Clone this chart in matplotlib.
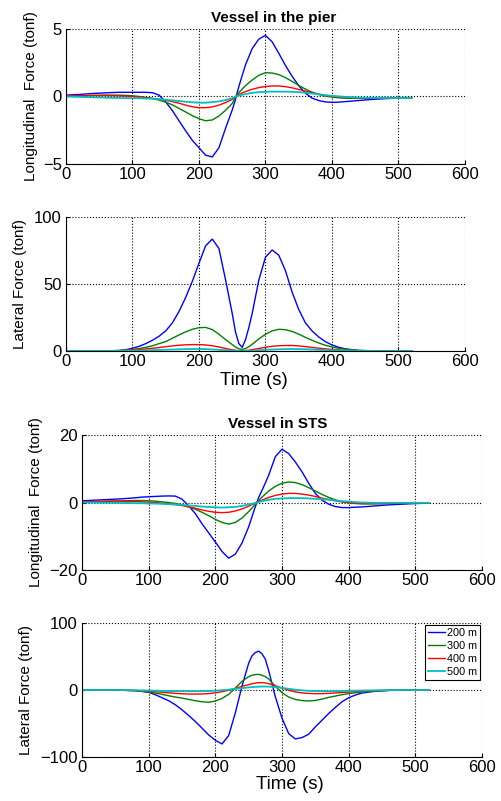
import numpy as np
import matplotlib
matplotlib.use("Agg")
import matplotlib.pyplot as plt

plt.rcParams['font.family'] = ['Liberation Sans', 'DejaVu Sans']

# time samples (s) shared by all curves
t = [0, 20, 40, 60, 80, 90, 100, 110, 120, 130, 140, 150, 160, 170, 180, 190,
     200, 210, 220, 230, 240, 250, 255, 260, 265, 270, 275, 280, 290, 300, 310,
     320, 330, 340, 350, 360, 370, 380, 390, 400, 410, 420, 440, 460, 480, 500, 520]

labels = ['200 m', '300 m', '400 m', '500 m']
colors = ['#0000ff', '#008000', '#ff0000', '#00bfbf']
widths = [1.0, 1.0, 1.0, 1.3]

# ---- Vessel in the pier, longitudinal force (tonf)
pier_long_200 = [0.10, 0.15, 0.22, 0.27, 0.31, 0.31, 0.31, 0.31, 0.31, 0.28, 0.10, -0.40, -1.05, -1.80, -2.55, -3.25,
                 -3.80, -4.35, -4.48, -3.80, -2.35, -1.00, -0.20, 0.75, 1.55, 2.35, 2.95, 3.55, 4.25, 4.53, 4.05,
                 3.20, 2.30, 1.50, 0.80, 0.25, -0.12, -0.30, -0.40, -0.44, -0.42, -0.38, -0.30, -0.22, -0.16, -0.12, -0.10]
pier_long_300 = [0.00, 0.04, 0.08, 0.10, 0.10, 0.08, 0.05, 0.00, -0.07, -0.15, -0.27, -0.42, -0.62, -0.88, -1.15, -1.42,
                 -1.65, -1.80, -1.74, -1.45, -1.02, -0.52, -0.05, 0.30, 0.55, 0.80, 1.02, 1.22, 1.57, 1.76, 1.74,
                 1.62, 1.40, 1.12, 0.82, 0.55, 0.32, 0.15, 0.03, -0.05, -0.10, -0.13, -0.14, -0.13, -0.11, -0.09, -0.08]
pier_long_400 = [0.05, 0.06, 0.07, 0.07, 0.05, 0.03, 0.00, -0.04, -0.09, -0.14, -0.20, -0.28, -0.38, -0.50, -0.64, -0.76,
                 -0.83, -0.83, -0.77, -0.64, -0.45, -0.22, -0.02, 0.15, 0.26, 0.36, 0.45, 0.53, 0.66, 0.74, 0.78,
                 0.78, 0.73, 0.64, 0.52, 0.40, 0.28, 0.17, 0.08, 0.01, -0.04, -0.07, -0.10, -0.10, -0.10, -0.09, -0.08]
pier_long_500 = [0.00, -0.03, -0.06, -0.09, -0.11, -0.12, -0.12, -0.13, -0.15, -0.17, -0.20, -0.24, -0.29, -0.34, -0.39, -0.43,
                 -0.46, -0.46, -0.42, -0.36, -0.27, -0.13, -0.01, 0.07, 0.13, 0.18, 0.23, 0.27, 0.32, 0.35, 0.36,
                 0.36, 0.36, 0.35, 0.32, 0.28, 0.22, 0.16, 0.10, 0.05, 0.01, -0.03, -0.08, -0.10, -0.11, -0.11, -0.11]

# ---- Vessel in the pier, lateral force (tonf)
pier_lat_200 = [0, 0, 0, 0, 0.3, 1.0, 2.0, 3.5, 5.5, 8.0, 11.0, 15.0, 21.0, 29.5, 40.0, 52.0,
                65.5, 78.5, 83.5, 76.5, 53.0, 28.0, 14.0, 5.5, 2.7, 8.5, 17.5, 28.0, 53.0, 70.0, 75.4,
                71.5, 60.0, 44.0, 31.0, 21.0, 15.0, 10.5, 7.0, 4.5, 2.8, 1.6, 0.4, 0.1, 0, 0, 0]
pier_lat_300 = [0, 0, 0, 0.1, 0.4, 0.7, 1.1, 1.8, 2.7, 3.9, 5.5, 7.0, 9.5, 12.0, 14.3, 16.2,
                17.4, 17.6, 16.0, 12.5, 8.5, 4.8, 3.0, 1.6, 1.2, 1.8, 3.2, 5.0, 9.0, 12.5, 15.0,
                16.2, 15.9, 14.6, 12.6, 10.2, 8.0, 6.0, 4.3, 3.0, 2.0, 1.3, 0.5, 0.2, 0.1, 0, 0]
pier_lat_400 = [0, 0, 0, 0.1, 0.3, 0.5, 0.8, 1.1, 1.5, 2.0, 2.6, 3.2, 3.8, 4.3, 4.6, 4.8,
                4.8, 4.5, 3.9, 3.0, 1.9, 0.9, 0.5, 0.2, 0.1, 0.3, 0.6, 1.0, 1.9, 2.8, 3.5,
                3.9, 4.1, 4.1, 3.8, 3.3, 2.7, 2.1, 1.6, 1.1, 0.8, 0.5, 0.2, 0.1, 0, 0, 0]
pier_lat_500 = [0, 0, 0, 0.05, 0.1, 0.2, 0.3, 0.4, 0.5, 0.65, 0.8, 0.95, 1.1, 1.25, 1.4, 1.5,
                1.5, 1.4, 1.2, 0.9, 0.6, 0.3, 0.2, 0.1, 0.05, 0.1, 0.2, 0.3, 0.6, 0.9, 1.1,
                1.3, 1.4, 1.5, 1.4, 1.3, 1.1, 0.9, 0.7, 0.5, 0.4, 0.3, 0.1, 0.05, 0, 0, 0]

# ---- Vessel in STS, longitudinal force (tonf)
sts_long_200 = [0.5, 0.7, 0.9, 1.1, 1.4, 1.6, 1.7, 1.8, 1.9, 1.95, 1.9, 1.0, -1.0, -3.3, -6.3, -9.0,
                -11.7, -14.5, -16.5, -15.3, -12.0, -7.2, -4.2, -1.2, 1.5, 3.6, 5.8, 8.1, 13.6, 15.8, 14.5,
                12.0, 9.1, 5.7, 2.7, 0.7, -0.5, -1.2, -1.5, -1.5, -1.4, -1.3, -1.0, -0.7, -0.5, -0.3, -0.2]
sts_long_300 = [0.0, 0.2, 0.4, 0.5, 0.6, 0.6, 0.5, 0.4, 0.2, 0.0, -0.3, -0.7, -1.3, -2.0, -2.9, -3.9,
                -5.0, -5.9, -6.4, -5.9, -4.6, -2.7, -1.6, -0.5, 0.6, 1.6, 2.5, 3.4, 4.8, 5.7, 6.1,
                5.9, 5.3, 4.4, 3.4, 2.4, 1.5, 0.8, 0.2, -0.1, -0.3, -0.4, -0.4, -0.3, -0.2, -0.1, -0.1]
sts_long_400 = [0.2, 0.3, 0.4, 0.4, 0.3, 0.2, 0.1, 0.0, -0.2, -0.4, -0.6, -0.9, -1.3, -1.7, -2.2, -2.6,
                -2.9, -3.0, -2.9, -2.5, -1.9, -1.1, -0.6, -0.2, 0.3, 0.7, 1.1, 1.5, 2.1, 2.5, 2.7,
                2.7, 2.5, 2.2, 1.8, 1.3, 0.9, 0.5, 0.2, 0.0, -0.2, -0.3, -0.3, -0.3, -0.2, -0.1, -0.1]
sts_long_500 = [0.0, 0.0, -0.1, -0.1, -0.2, -0.2, -0.3, -0.3, -0.4, -0.5, -0.6, -0.7, -0.9, -1.0, -1.2, -1.3,
                -1.4, -1.5, -1.4, -1.3, -1.0, -0.6, -0.4, -0.1, 0.1, 0.4, 0.6, 0.8, 1.1, 1.2, 1.3,
                1.3, 1.3, 1.2, 1.1, 1.0, 0.8, 0.6, 0.4, 0.3, 0.1, 0.0, -0.1, -0.1, -0.1, -0.1, -0.1]

# ---- Vessel in STS, lateral force (tonf)
sts_lat_200 = [0, 0, 0, -0.3, -1, -2, -3.5, -7, -11.5, -16, -22, -29.5, -38, -47, -57, -67,
               -75, -80.5, -68, -34, 6, 40, 51, 56, 58, 54, 46, 29, -10, -42, -65,
               -73, -71, -66, -55, -45, -35, -26, -17.5, -11.5, -7.5, -4.5, -1.8, -0.5, 0, 0, 0]
sts_lat_300 = [0, 0, 0, -0.3, -1, -2, -3, -4.5, -6.5, -8.5, -10.5, -12, -14, -16, -17.5, -18.2,
               -16.5, -12.5, -6.5, 3, 13, 20, 22, 23, 23.4, 22, 20, 16.5, 5.5, -4, -10.5,
               -14, -15.8, -16.4, -15.5, -13.5, -11, -9, -7, -5.3, -4, -3, -1.5, -0.6, -0.2, 0, 0]
sts_lat_400 = [0, 0, 0, -0.2, -0.8, -1.3, -1.9, -2.6, -3.4, -4.2, -5.0, -5.6, -6.0, -6.1, -5.9, -5.3,
               -4.2, -2.5, -0.3, 2.5, 5.5, 8, 9.3, 10.3, 11, 11, 10.5, 9.5, 6.5, 3, -0.3,
               -2.8, -4.3, -5.1, -5.5, -5.4, -5.0, -4.4, -3.7, -3.0, -2.4, -1.8, -0.9, -0.4, -0.1, 0, 0]
sts_lat_500 = [0, 0, 0, -0.1, -0.3, -0.5, -0.8, -1.0, -1.3, -1.5, -1.7, -1.8, -1.9, -1.9, -1.8, -1.5,
               -1.0, -0.3, 0.6, 1.7, 2.8, 3.9, 4.4, 4.8, 5.0, 5.2, 5.2, 5.1, 4.4, 3.2, 1.8,
               0.5, -0.5, -1.2, -1.6, -1.8, -1.8, -1.7, -1.5, -1.3, -1.0, -0.8, -0.4, -0.2, -0.1, 0, 0]

panels = [
    dict(rect=[0.1317, 0.7953, 0.7964, 0.1685], series=[pier_long_200, pier_long_300, pier_long_400, pier_long_500],
         ylim=(-5, 5), yticks=[-5, 0, 5], ylabel='Longitudinal  Force (tonf)', ylab_x=-0.070,
         title='Vessel in the pier', title_x=0.52, xlabel=None),
    dict(rect=[0.1317, 0.5618, 0.7964, 0.1673], series=[pier_lat_200, pier_lat_300, pier_lat_400, pier_lat_500],
         ylim=(0, 100), yticks=[0, 50, 100], ylabel='Lateral Force (tonf)', ylab_x=-0.098,
         title=None, xlabel='Time (s)', xlab=(0.471, -0.160)),
    dict(rect=[0.1637, 0.2884, 0.7984, 0.1685], series=[sts_long_200, sts_long_300, sts_long_400, sts_long_500],
         ylim=(-20, 20), yticks=[-20, 0, 20], ylabel='Longitudinal  Force (tonf)', ylab_x=-0.0975,
         title='Vessel in STS', title_x=0.49, xlabel=None),
    dict(rect=[0.1637, 0.0549, 0.7984, 0.1673], series=[sts_lat_200, sts_lat_300, sts_lat_400, sts_lat_500],
         ylim=(-100, 100), yticks=[-100, 0, 100], ylabel='Lateral Force (tonf)', ylab_x=-0.1225,
         title=None, xlabel='Time (s)', xlab=(0.52, -0.140)),
]

fig = plt.figure(figsize=(5.01, 8.01), dpi=100)

for i, p in enumerate(panels):
    ax = fig.add_axes(p['rect'])
    for s, c, lw, lab in zip(p['series'], colors, widths, labels):
        ax.plot(t, s, color=c, lw=lw, label=lab)
    ax.set_xlim(0, 600)
    ax.set_ylim(*p['ylim'])
    ax.set_xticks(range(0, 601, 100))
    ax.set_yticks(p['yticks'])
    ax.grid(True, color='k', linestyle=':', linewidth=0.8)
    ax.spines['top'].set_visible(False)
    ax.spines['right'].set_visible(False)
    ax.tick_params(direction='in', length=3, labelsize=12)
    ax.tick_params(axis='x', pad=2)
    ax.tick_params(axis='y', pad=3)
    ax.set_ylabel(p['ylabel'], fontsize=11)
    ax.yaxis.set_label_coords(p['ylab_x'], 0.5)
    if p['title']:
        ax.set_title(p['title'], fontsize=11, fontweight='bold', pad=5)
        ax.title.set_x(p['title_x'])
    if p['xlabel']:
        ax.set_xlabel(p['xlabel'], fontsize=13.5)
        ax.xaxis.set_label_coords(*p['xlab'])
    if i == 3:
        leg = ax.legend(loc='upper right', bbox_to_anchor=(1.0, 1.0), fontsize=7.8, fancybox=False,
                        framealpha=1, edgecolor='k', handlelength=1.65, handletextpad=0.15,
                        borderaxespad=0.2, labelspacing=0.28, borderpad=0.25)
        leg.get_frame().set_linewidth(0.8)

fig.savefig('out.png', dpi=100)
